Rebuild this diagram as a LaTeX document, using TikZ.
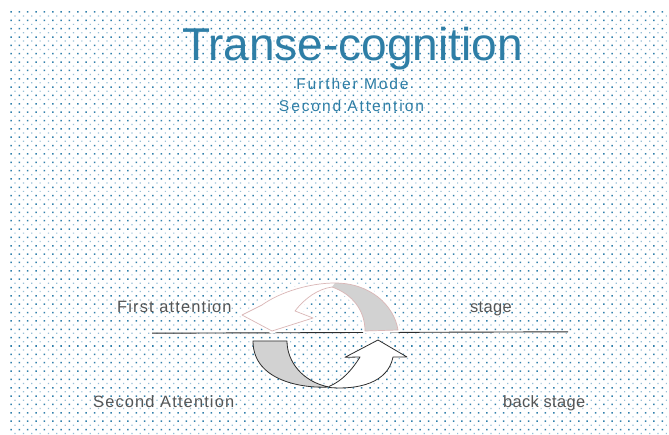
\documentclass[tikz,border=0pt]{standalone}
\usepackage{fontspec}
\setmainfont{Liberation Sans}
\newfontfamily\titlefont{Liberation Sans}
\newfontfamily\subfont[LetterSpace=12]{Liberation Sans}
\newfontfamily\labfont[LetterSpace=7]{Liberation Sans}
\newfontfamily\tightlabfont[LetterSpace=2]{Liberation Sans}

\definecolor{inkblue}{RGB}{46,126,166}
\definecolor{labgray}{RGB}{85,85,85}
\definecolor{dotdark}{RGB}{50,128,172}
\definecolor{dotlight}{RGB}{150,190,214}
\definecolor{bandgray}{RGB}{210,210,210}
\definecolor{rimpink}{RGB}{218,182,182}
\definecolor{rimdark}{RGB}{45,45,45}

\tikzset{
  title/.style={inner sep=0pt, anchor=base, text=inkblue, font=\titlefont\fontsize{46}{50}\selectfont},
  subtitle/.style={inner sep=0pt, anchor=base, text=inkblue, font=\subfont\fontsize{15.6}{18}\selectfont},
  lab/.style={inner sep=0pt, anchor=base west, text=labgray, font=\labfont\fontsize{16.4}{19}\selectfont},
  tightlab/.style={lab, font=\tightlabfont\fontsize{16.4}{19}\selectfont},
  halo/.style={draw=white, line width=5pt, line join=round},
  softrim/.style={draw=rimpink, line width=0.7pt, line join=round},
  hardrim/.style={draw=rimdark, line width=0.8pt, line join=round},
}

\begin{document}
\begin{tikzpicture}[x=1pt, y=-1pt]
  % canvas
  \fill[white] (0,0) rectangle (669,435);
  \useasboundingbox (0,0) rectangle (669,435);

  % dotted paper texture: staggered grid of dark and light dots
  \fill[dotdark] foreach \i in {0,...,79} { foreach \j in {0,...,51}
    { (10.25+8.35*\i, 11.25+8.35*\j) rectangle ++(1.5,1.5) } };
  \fill[dotlight] foreach \i in {0,...,79} { foreach \j in {0,...,51}
    { (14.45+8.35*\i, 15.45+8.35*\j) rectangle ++(1.2,1.2) } };

  % headings
  \node[title]    (head) at (352.5,61)   {Transe-cognition};
  \node[subtitle] (sub1) at (352.5,89.3) {Further Mode};
  \node[subtitle] (sub2) at (351.5,111.7){Second Attention};

  % stage labels
  \node[lab]      (first) at (117,313)   {First attention};
  \node[tightlab] (stage) at (470,313)   {stage};
  \node[lab]      (secnd) at (93,407.7)  {Second Attention};
  \node[tightlab] (back)  at (503,407.7) {back stage};

  % dividing line between stage and back stage
  \coordinate (lineL) at (152,333.2);
  \coordinate (lineR) at (568,331.8);
  \draw[rimdark, line width=0.9pt] (lineL) -- (lineR);

  % upper curved arrow (stage side), soft rim with white glow
  \def\upperarrow{(398,330) .. controls (394,305) and (370,283) .. (335,283)
    .. controls (310,283) and (280,292) .. (262,305)
    -- (242,315) -- (272,331) -- (313,318) -- (295,311)
    .. controls (305,298) and (318,289) .. (332,287)
    .. controls (352,294) and (365,310) .. (365,331) -- cycle}
  \path[halo] \upperarrow;
  \fill[white] \upperarrow;
  \fill[bandgray] (332,287) .. controls (352,294) and (365,310) .. (365,331)
    -- (398,330) .. controls (394,305) and (370,283) .. (335,283) -- cycle;
  \path[softrim] \upperarrow;

  % lower curved arrow (back stage side), dark rim
  \filldraw[fill=white, hardrim] (329,387.5) .. controls (358,390) and (388,383) .. (393,357)
    -- (407,357) -- (378,340) -- (345,357.3) -- (360,357)
    .. controls (352,370) and (342,381) .. (329,386.5);
  \filldraw[fill=bandgray, hardrim] (253,341) -- (287,341)
    .. controls (287,362) and (303,382) .. (329,387)
    .. controls (305,388.5) and (253,382) .. (253,341) -- cycle;
\end{tikzpicture}
\end{document}
